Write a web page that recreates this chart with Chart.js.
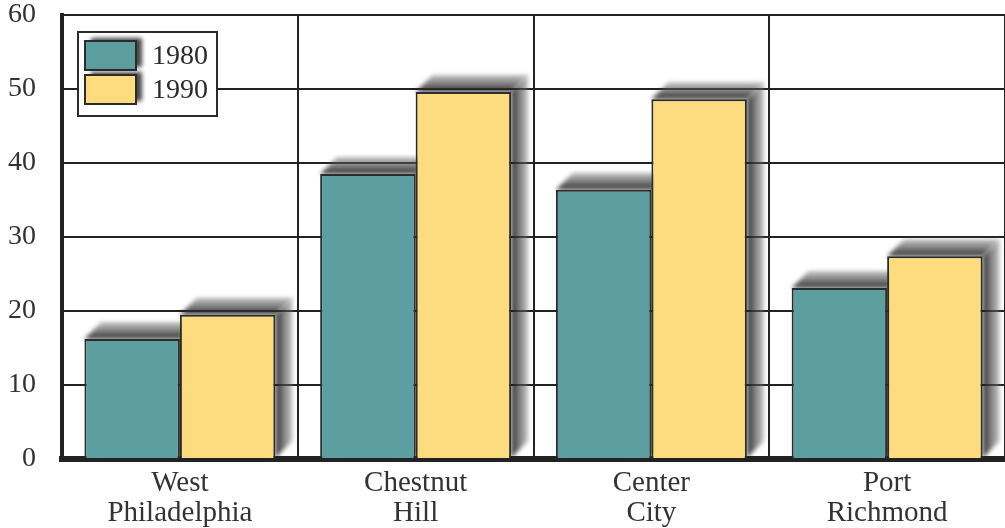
<!DOCTYPE html>
<html>
<head>
<meta charset="utf-8">
<script src="https://cdn.jsdelivr.net/npm/chart.js@4/dist/chart.umd.min.js"></script>
<style>
    html, body { margin: 0; padding: 0; background: #fff; }
    #wrap { width: 1005px; height: 528px; }
</style>
</head>
<body>
<div id="wrap"><canvas id="chart" width="1005" height="528"></canvas></div>
<script>
// Chart data
const neighborhoods = [["West", "Philadelphia"], ["Chestnut", "Hill"], ["Center", "City"], ["Port", "Richmond"]];
const years = ["1980", "1990"];
const values1980 = [16.2, 38.5, 36.4, 23.1];
const values1990 = [19.5, 49.6, 48.6, 27.4];
const yTicks = [0, 10, 20, 30, 40, 50, 60];

const serif = "'Liberation Serif', 'DejaVu Serif', serif";
const ink = "#2b2b2b";
const colors = ["#5d9ea0", "#fddc80"];

// Extruded drop shadow behind each bar (up and to the right)
const shadowPlugin = {
    id: "barShadow",
    beforeDatasetsDraw(chart) {
        const ctx = chart.ctx;
        const d = 17;
        ctx.save();
        ctx.filter = "blur(2px)";
        chart.data.datasets.forEach((ds, i) => {
            chart.getDatasetMeta(i).data.forEach(bar => {
                const x0 = bar.x - bar.width / 2;
                const x1 = bar.x + bar.width / 2;
                // right face
                const gr = ctx.createLinearGradient(x1, 0, x1 + d, 0);
                gr.addColorStop(0, "rgba(25,25,25,0.92)");
                gr.addColorStop(1, "rgba(120,120,120,0.45)");
                ctx.fillStyle = gr;
                ctx.beginPath();
                ctx.moveTo(x1, bar.y);
                ctx.lineTo(x1 + d, bar.y - d);
                ctx.lineTo(x1 + d, bar.base - d);
                ctx.lineTo(x1, bar.base);
                ctx.closePath();
                ctx.fill();
                // top face
                const gt = ctx.createLinearGradient(0, bar.y, 0, bar.y - d);
                gt.addColorStop(0, "rgba(25,25,25,0.92)");
                gt.addColorStop(1, "rgba(120,120,120,0.45)");
                ctx.fillStyle = gt;
                ctx.beginPath();
                ctx.moveTo(x0, bar.y);
                ctx.lineTo(x0 + d, bar.y - d);
                ctx.lineTo(x1 + d, bar.y - d);
                ctx.lineTo(x1, bar.y);
                ctx.closePath();
                ctx.fill();
            });
        });
        ctx.restore();
    }
};

// Boxed legend inside the plot, top left
const legendPlugin = {
    id: "boxLegend",
    afterDraw(chart) {
        const ctx = chart.ctx;
        const area = chart.chartArea;
        const left = area.left + 16;
        const top = area.top + 17;
        ctx.save();
        ctx.fillStyle = "#fff";
        ctx.fillRect(left, top, 139, 84);
        ctx.strokeStyle = ink;
        ctx.lineWidth = 2;
        ctx.strokeRect(left, top, 139, 84);
        chart.data.datasets.forEach((ds, i) => {
            const sx = left + 7;
            const sy = top + 9 + i * 34;
            ctx.save();
            ctx.filter = "blur(2px)";
            ctx.fillStyle = "rgba(40,40,40,0.85)";
            ctx.fillRect(sx + 6, sy - 3, 51, 29);
            ctx.restore();
            ctx.fillStyle = ds.backgroundColor;
            ctx.fillRect(sx, sy, 51, 29);
            ctx.strokeStyle = ink;
            ctx.lineWidth = 2;
            ctx.strokeRect(sx, sy, 51, 29);
            ctx.fillStyle = ink;
            ctx.font = "28px " + serif;
            ctx.textBaseline = "middle";
            ctx.fillText(ds.label, sx + 67, sy + 16);
        });
        ctx.restore();
    }
};

const ctx = document.getElementById("chart").getContext("2d");

new Chart(ctx, {
    type: "bar",
    data: {
        labels: neighborhoods,
        datasets: [
            { label: years[0], data: values1980, backgroundColor: colors[0], borderColor: ink, borderWidth: 2 },
            { label: years[1], data: values1990, backgroundColor: colors[1], borderColor: ink, borderWidth: 2 }
        ]
    },
    options: {
        responsive: false,
        animation: false,
        layout: { padding: { top: 15, right: 0, left: 0, bottom: 0 } },
        datasets: { bar: { categoryPercentage: 0.81, barPercentage: 1.0 } },
        plugins: {
            legend: { display: false },
            tooltip: { enabled: false }
        },
        scales: {
            x: {
                grid: { color: "#222", lineWidth: 2, drawTicks: false, offset: true },
                border: { color: "#222", width: 6 },
                ticks: { color: "#333", padding: 9, font: { family: serif, size: 29, lineHeight: 1.05 } },
                afterFit(scale) { scale.height = 69; }
            },
            y: {
                min: 0,
                max: 60,
                afterBuildTicks(scale) { scale.ticks = yTicks.map(v => ({ value: v })); },
                grid: { color: "#222", lineWidth: 2, drawTicks: false },
                border: { color: "#222", width: 4 },
                ticks: { color: "#333", padding: 26, font: { family: serif, size: 28 } },
                afterFit(scale) {
                    scale.width = 62;
                    scale.paddingTop = 0;
                    scale.paddingBottom = 0;
                }
            }
        }
    },
    plugins: [shadowPlugin, legendPlugin]
});
</script>
</body>
</html>
